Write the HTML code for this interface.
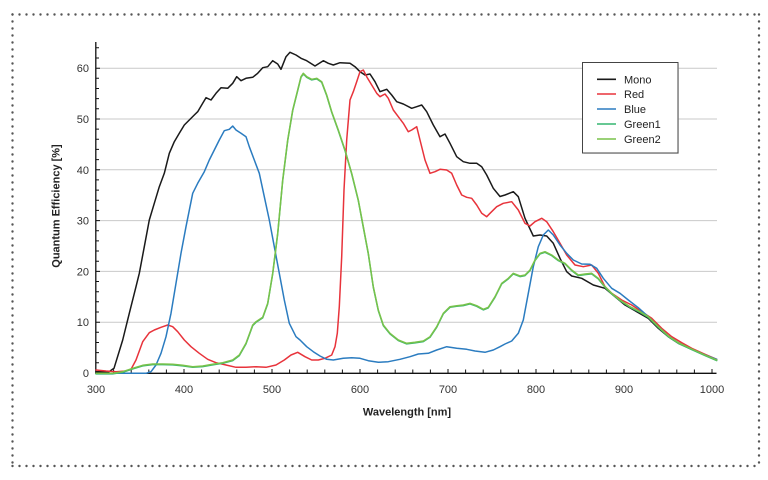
<!DOCTYPE html>
<html>
<head>
<meta charset="utf-8">
<style>
html,body{margin:0;padding:0;background:#fff;}
svg{display:block;}
text{font-family:"Liberation Sans",Arial,sans-serif;}
</style>
</head>
<body>
<svg width="768" height="480" viewBox="0 0 768 480" xmlns="http://www.w3.org/2000/svg">
<rect width="768" height="480" fill="#fff"/>
<!-- dotted frame -->
<g stroke="#555" stroke-width="2.4" stroke-linecap="round" stroke-dasharray="0 7" fill="none">
<line x1="12.5" y1="14.5" x2="759" y2="14.5"/>
<line x1="12.5" y1="466" x2="759" y2="466"/>
<line x1="12.5" y1="14.5" x2="12.5" y2="466"/>
<line x1="759" y1="14.5" x2="759" y2="466"/>
</g>
<!-- grid -->
<g stroke="#c9c9c9" stroke-width="1">
<line x1="96" y1="322.2" x2="717" y2="322.2"/>
<line x1="96" y1="271.4" x2="717" y2="271.4"/>
<line x1="96" y1="220.6" x2="717" y2="220.6"/>
<line x1="96" y1="169.8" x2="717" y2="169.8"/>
<line x1="96" y1="119" x2="717" y2="119"/>
<line x1="96" y1="68.2" x2="717" y2="68.2"/>
</g>
<!-- axes -->
<g stroke="#111" stroke-width="1.3" fill="none">
<line x1="95.8" y1="42" x2="95.8" y2="373.6"/>
<line x1="95.2" y1="373.3" x2="716.5" y2="373.3"/>
</g>
<g stroke="#111" stroke-width="1">
<path d="M96 362.8h3M96 352.6h3M96 342.5h3M96 332.3h3M96 312h3M96 301.8h3M96 291.7h3M96 281.5h3M96 261.2h3M96 251h3M96 240.9h3M96 230.7h3M96 210.4h3M96 200.2h3M96 190.1h3M96 179.9h3M96 159.6h3M96 149.4h3M96 139.3h3M96 129.1h3M96 108.8h3M96 98.6h3M96 88.5h3M96 78.3h3M96 58h3M96 47.8h3"/>
<path d="M96 322.2h4M96 271.4h4M96 220.6h4M96 169.8h4M96 119h4M96 68.2h4"/>
<path d="M113.6 373v-3.5M131.2 373v-3.5M148.8 373v-3.5M166.4 373v-3.5M184 373v-4M201.6 373v-3.5M219.2 373v-3.5M236.8 373v-3.5M254.4 373v-3.5M272 373v-4M289.6 373v-3.5M307.2 373v-3.5M324.8 373v-3.5M342.4 373v-3.5M360 373v-4M377.6 373v-3.5M395.2 373v-3.5M412.8 373v-3.5M430.4 373v-3.5M448 373v-4M465.6 373v-3.5M483.2 373v-3.5M500.8 373v-3.5M518.4 373v-3.5M536 373v-4M553.6 373v-3.5M571.2 373v-3.5M588.8 373v-3.5M606.4 373v-3.5M624 373v-4M641.6 373v-3.5M659.2 373v-3.5M676.8 373v-3.5M694.4 373v-3.5M712 373v-4"/>
</g>
<!-- tick labels -->
<g font-size="11" fill="#333" text-anchor="end">
<text x="89" y="377">0</text>
<text x="89" y="326.2">10</text>
<text x="89" y="275.4">20</text>
<text x="89" y="224.6">30</text>
<text x="89" y="173.8">40</text>
<text x="89" y="123">50</text>
<text x="89" y="72.2">60</text>
</g>
<g font-size="11" fill="#333" text-anchor="middle">
<text x="96" y="393">300</text>
<text x="184" y="393">400</text>
<text x="272" y="393">500</text>
<text x="360" y="393">600</text>
<text x="448" y="393">700</text>
<text x="536" y="393">800</text>
<text x="624" y="393">900</text>
<text x="712" y="393">1000</text>
</g>
<text x="407" y="415.5" font-size="11" font-weight="bold" fill="#222" text-anchor="middle">Wavelength [nm]</text>
<text transform="translate(59.5,206) rotate(-90)" font-size="11" font-weight="bold" fill="#222" text-anchor="middle">Quantum Efficiency [%]</text>
<!-- series -->
<g fill="none" stroke-width="1.5" stroke-linejoin="round" stroke-linecap="round">
<polyline stroke="#1a1a1a" points="96,371.7 109,371.7 114,368.3 122.7,340 129.3,313.3 136,286.7 139.3,273.3 144.3,246.7 149.3,220 154.3,203.3 159.3,186.7 164.3,173.3 169.3,153.3 174.3,141.7 179.3,133.3 184.3,125 189.3,120 194.3,115 197.7,111.7 202.7,103.3 206,97.7 211,100 216,93.3 221,87.7 227.7,88.3 232.7,83.3 236.7,76.7 241,80.7 246,78.3 252.7,77.3 257.7,73.3 262.7,67.7 267.7,66.7 272.7,60.7 277.7,64 281,69.3 286,56.7 290,52.3 296,55 301,58.3 306.7,60.7 315,66 323.3,60.7 328.3,63.3 333.3,65 340,62.7 350,63.3 355,66.7 360,71.7 365,75 370,74 375,81.7 380,91.7 386.7,89.3 391.7,95 396.7,101.7 403.3,104 411.7,108.3 416.7,106.7 421.7,105 426.7,111.7 433.3,125 440,136.7 445,134 450,143.3 456.7,156.7 463.3,161.7 470,163.3 476.7,163.3 481.7,166.7 486.7,175 493.3,188.3 500,196.5 505,195 513.3,191.7 518.3,196.7 525,218.3 533.3,236 540,235 546.7,236 553.3,243.3 560,258.3 566.7,271.7 571.7,276 581.7,278.3 593.3,285 605,288.3 615,296.7 625,305 636.7,311.7 648.3,318.3 658.3,328.3 668.3,336.7 678.3,343.3 691.7,349.3 705,355 716.7,360"/>
<polyline stroke="#e8333b" points="96,370 106,371 116,371.7 126,371 131,369.3 136,360 142.7,341.7 149.3,332.7 154.3,330 161,327.3 167.7,325 172.7,326.7 177.7,331.7 184.3,340 191,346.7 199.3,353.3 207.7,359.3 216,362.7 226,365 236,367.3 246,367.3 256,366.7 266,367.3 276,365 284.3,360 291,355 297.7,352.3 305,356.7 311.7,360 318.3,360 325,358.3 331.7,355 335,346.7 337.3,333.3 339.3,306.7 341.7,256.7 344,190 346.7,140 350,100 353.3,91.7 356.7,81.7 360,71.7 363.3,70 366.7,76.7 371.7,85 376.7,93.3 380,96.7 385,94 388.3,98.3 393.3,110 398.3,116.7 403.3,123.3 408.3,131.7 411.7,130 416.7,126.7 420,140 425,160 430,173.3 435,171.7 440,169.3 446.7,170 451.7,173.3 456.7,185 461.7,195 466.7,197.3 471.7,198.3 476.7,205 481.7,213.3 486.7,216.7 490,213.3 496.7,206.7 503.3,203.3 511.7,201.7 518.3,210 525,223.3 530,226 535,221.7 541.7,218.3 546.7,221.7 553.3,231.7 560,243.3 566.7,255 575,265 583.3,266.7 591.7,265 598.3,273.3 605,286.7 611.7,293.3 621.7,300 631.7,305 641.7,311.7 651.7,318.3 661.7,328.3 671.7,336.7 681.7,342.7 691.7,348.3 705,354.3 716.7,359.3"/>
<polyline stroke="#2b7cc0" points="96,373.3 146,373.3 151,371.7 156,365 161,353.3 166,336.7 171,313.3 176,283.3 181,253.3 186,226.7 192.7,193.3 197.7,183.3 204.3,171.7 209.3,160 214.3,150 219.3,140 224.3,130.7 229.3,129.3 232.7,126 236,130 241,133.3 246,136.7 249.3,146.7 254.3,160 259.3,173.3 264.3,196.7 269.3,220 274.3,246.7 279.3,273.3 284.3,300 289.3,323.3 296,336.7 300,340 306.7,346.7 313.3,351.7 320,356 326.7,359.3 333.3,360 343.3,358.3 351.7,357.7 360,358.3 368.3,360.7 378.3,362.3 388.3,361.7 400,359.3 410,356.7 418.3,354 428.3,353.3 436.7,350 446.7,346.7 456.7,348.3 466.7,349.3 475,351 485,352.3 493.3,350 500,346.7 505,344 511.7,341 518.3,333.3 523.3,320 528.3,293.3 533.3,266.7 538.3,246.7 543.3,235 548.3,230 553.3,235 560,245 566.7,253.3 573.3,260 581.7,264 590,264.3 596.7,268.3 603.3,278.3 611.7,288.3 620,293.3 628.3,300 638.3,307.7 648.3,316.7 658.3,326.7 668.3,336 678.3,342.7 691.7,349.3 705,355 716.7,359.3"/>
<polyline stroke="#35b571" transform="translate(0,0.6)" points="96,373.3 112.7,373.3 122.7,371.7 132.7,368.3 142.7,365.3 152.7,364 162.7,364 172.7,364.3 182.7,365.3 192.7,366.7 202.7,366 212.7,364.3 222.7,362.7 232.7,360 239.3,355 246,343.3 252.7,325 256,321.7 262.7,317.3 267.7,303.3 272.7,273.3 277.7,233.3 282.7,180 287.7,140 292.7,110 297.7,90 301,76.7 303.3,73.3 306.7,76.7 311.7,79.3 316.7,78.3 321.7,81.7 326.7,95 331.7,111.7 338.3,130 345,150 351.7,173.3 358.3,200 363.3,226.7 368.3,253.3 373.3,286.7 378.3,310 383.3,325 390,333.3 398.3,340 406.7,343.3 415,342.3 423.3,341 430,336.7 436.7,326.7 443.3,313.3 450,306.7 456.7,305.7 463.3,305 470,303.3 476.7,305.7 483.3,309.3 488.3,307.3 495,296.7 501.7,283.3 508.3,278.3 513.3,273.3 520,276 525,275 530,270 535,260 540,253.3 545,251.7 551.7,255 558.3,260 565,263.3 571.7,270 578.3,275 585,274 591.7,273.3 598.3,278.3 605,286.7 611.7,293.3 620,300 630,306.7 640,311.7 648.3,316.7 658.3,326.7 668.3,336 678.3,342.7 691.7,349 705,355 716.7,360"/>
<polyline stroke="#78c24a" points="96,373.3 112.7,373.3 122.7,371.7 132.7,368.3 142.7,365.3 152.7,364 162.7,364 172.7,364.3 182.7,365.3 192.7,366.7 202.7,366 212.7,364.3 222.7,362.7 232.7,360 239.3,355 246,343.3 252.7,325 256,321.7 262.7,317.3 267.7,303.3 272.7,273.3 277.7,233.3 282.7,180 287.7,140 292.7,110 297.7,90 301,76.7 303.3,73.3 306.7,76.7 311.7,79.3 316.7,78.3 321.7,81.7 326.7,95 331.7,111.7 338.3,130 345,150 351.7,173.3 358.3,200 363.3,226.7 368.3,253.3 373.3,286.7 378.3,310 383.3,325 390,333.3 398.3,340 406.7,343.3 415,342.3 423.3,341 430,336.7 436.7,326.7 443.3,313.3 450,306.7 456.7,305.7 463.3,305 470,303.3 476.7,305.7 483.3,309.3 488.3,307.3 495,296.7 501.7,283.3 508.3,278.3 513.3,273.3 520,276 525,275 530,270 535,260 540,253.3 545,251.7 551.7,255 558.3,260 565,263.3 571.7,270 578.3,275 585,274 591.7,273.3 598.3,278.3 605,286.7 611.7,293.3 620,300 630,306.7 640,311.7 648.3,316.7 658.3,326.7 668.3,336 678.3,342.7 691.7,349 705,355 716.7,360"/>
</g>
<!-- legend -->
<rect x="584" y="64" width="95" height="90" fill="#ddd" opacity="0.6"/>
<rect x="582.5" y="62.5" width="95.5" height="90.5" fill="#fff" stroke="#444" stroke-width="1"/>
<g stroke-width="1.6">
<line x1="597" y1="79.3" x2="616" y2="79.3" stroke="#1a1a1a"/>
<line x1="597" y1="94" x2="616" y2="94" stroke="#e8333b"/>
<line x1="597" y1="109" x2="616" y2="109" stroke="#2b7cc0"/>
<line x1="597" y1="124" x2="616" y2="124" stroke="#35b571"/>
<line x1="597" y1="139" x2="616" y2="139" stroke="#78c24a"/>
</g>
<g font-size="11" fill="#222">
<text x="624" y="83.3">Mono</text>
<text x="624" y="98">Red</text>
<text x="624" y="113">Blue</text>
<text x="624" y="128">Green1</text>
<text x="624" y="143">Green2</text>
</g>
</svg>
</body>
</html>
